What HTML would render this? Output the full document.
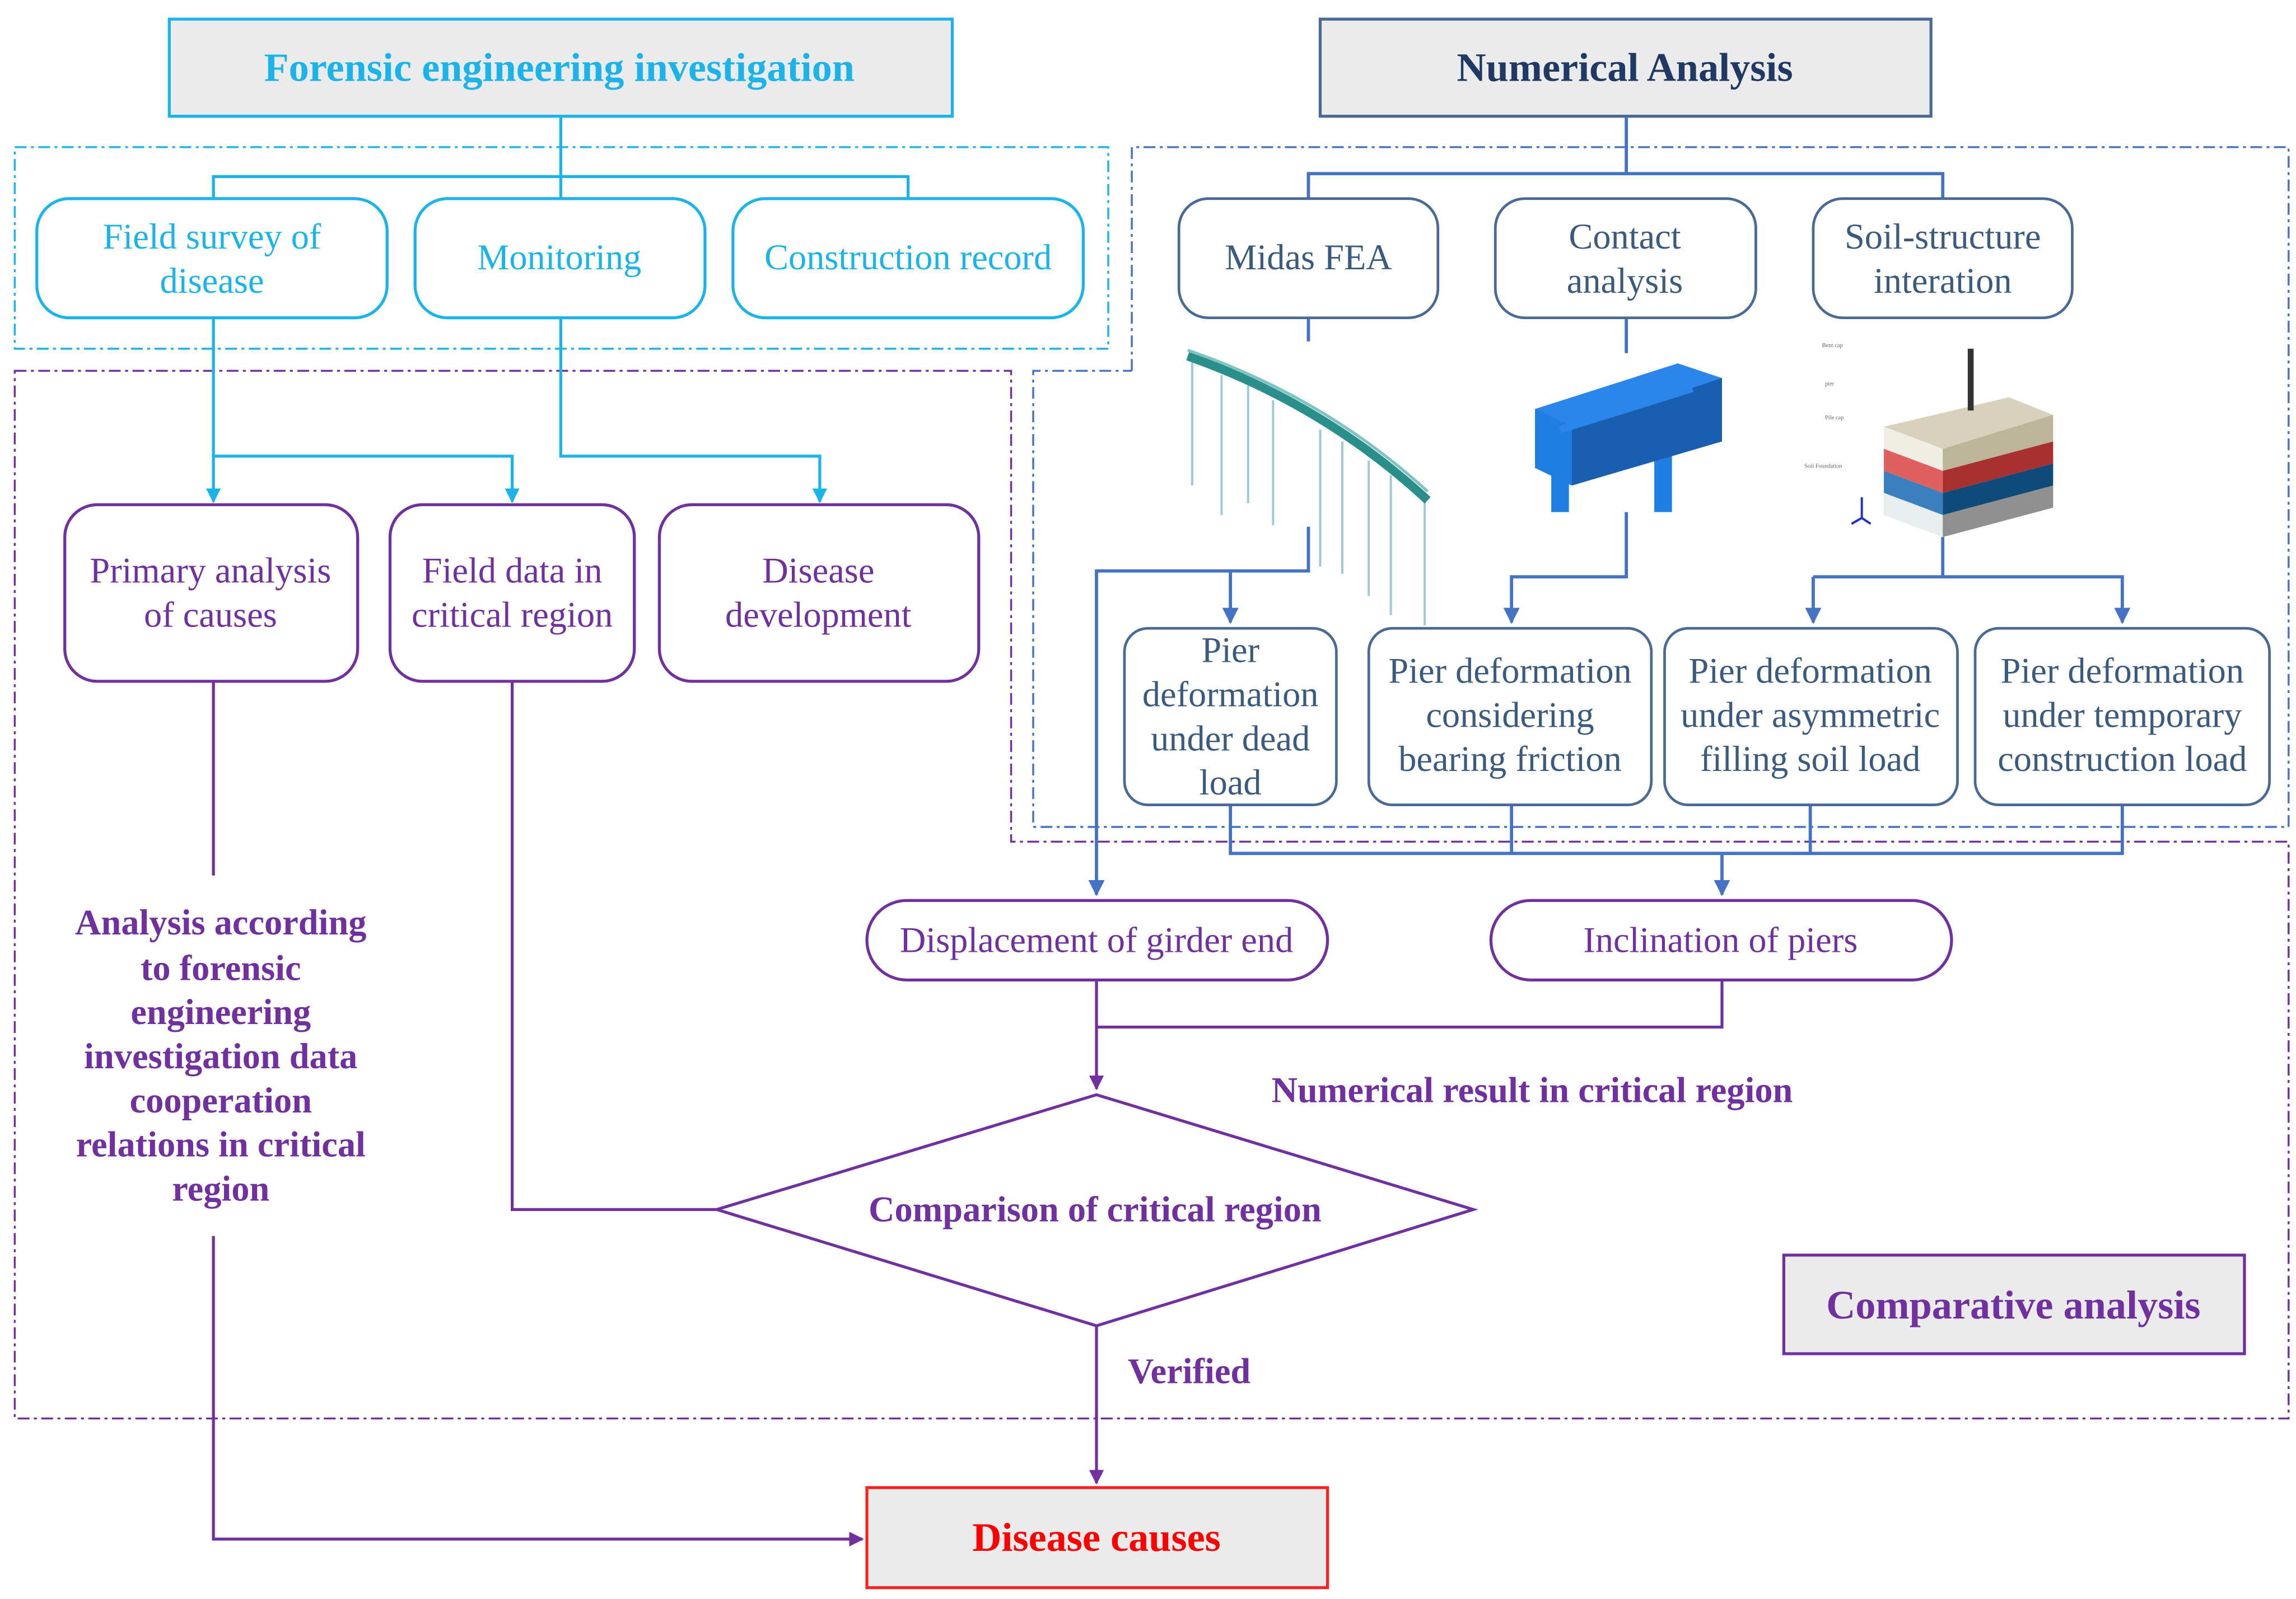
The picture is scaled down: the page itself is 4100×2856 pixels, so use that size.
<!DOCTYPE html>
<html><head><meta charset="utf-8"><style>html,body{margin:0;padding:0;background:#fff}svg{display:block}</style></head>
<body>
<svg xmlns="http://www.w3.org/2000/svg" width="4100" height="2856" viewBox="0 0 1560 1086.7" font-family="Liberation Serif, serif">
<defs>
<marker id="ac" viewBox="0 0 10 10" refX="9" refY="5" markerWidth="5" markerHeight="5" orient="auto"><path d="M0,0L10,5L0,10z" fill="#1ab4ea"/></marker>
<marker id="ab" viewBox="0 0 10 10" refX="9" refY="5" markerWidth="5" markerHeight="5" orient="auto"><path d="M0,0L10,5L0,10z" fill="#4472c4"/></marker>
<marker id="ap" viewBox="0 0 10 10" refX="9" refY="5" markerWidth="5" markerHeight="5" orient="auto"><path d="M0,0L10,5L0,10z" fill="#7030a0"/></marker>
</defs>
<rect width="1560" height="1087" fill="#fff"/>
<rect x="10" y="100" width="743" height="137" fill="none" stroke="#1ab4ea" stroke-width="1.3" stroke-dasharray="8,3,2,3"/>
<path d="M769,252V100H1555V562H702V252H769" fill="none" stroke="#4472c4" stroke-width="1.3" stroke-dasharray="8,3,2,3"/>
<path d="M10,252H687V572H1555V964H10Z" fill="none" stroke="#7030a0" stroke-width="1.3" stroke-dasharray="8,3,2,3"/>

<rect x="115" y="13" width="532" height="66" fill="#ebebeb" stroke="#1ab4ea" stroke-width="2"/>
<text x="380" y="55" text-anchor="middle" font-size="27.5" font-weight="bold" fill="#1ab4ea">Forensic engineering investigation</text>
<rect x="897" y="13" width="415" height="66" fill="#ebebeb" stroke="#4a6a96" stroke-width="2"/>
<text x="1104" y="55" text-anchor="middle" font-size="27.5" font-weight="bold" fill="#1f3864">Numerical Analysis</text>

<g stroke="#1ab4ea" stroke-width="2" fill="none">
<path d="M381,79V120M145,135V120H617V135M381,120V135"/>
<path d="M145,216V341" marker-end="url(#ac)"/>
<path d="M145,310H348V341" marker-end="url(#ac)"/>
<path d="M381,216V310H557V341" marker-end="url(#ac)"/>
</g>
<g fill="#fff" stroke="#1ab4ea" stroke-width="2">
<rect x="25" y="135" width="238" height="81" rx="22"/>
<rect x="282" y="135" width="197" height="81" rx="22"/>
<rect x="498" y="135" width="238" height="81" rx="22"/>
</g>
<g font-size="24.5" fill="#1ab4ea" text-anchor="middle">
<text x="144" y="169">Field survey of</text><text x="144" y="199">disease</text>
<text x="380" y="183">Monitoring</text>
<text x="617" y="183">Construction record</text>
</g>

<g stroke="#4472c4" stroke-width="2.2" fill="none">
<path d="M1105,79V118M889,135V118H1320V135"/>
<path d="M889,216V232M1105,216V240"/>
<path d="M889,358V388H745V608" marker-end="url(#ab)"/>
<path d="M836,388V423" marker-end="url(#ab)"/>
<path d="M1105,348V392H1027V423" marker-end="url(#ab)"/>
<path d="M1320,365V392"/>
<path d="M1232,392H1442V423" marker-end="url(#ab)"/>
<path d="M1232,392V423" marker-end="url(#ab)"/>
<path d="M836,547V580H1442V547M1027,547V580M1230,547V580"/>
<path d="M1170,580V608" marker-end="url(#ab)"/>
</g>
<g fill="#fff" stroke="#4a6a96" stroke-width="1.8">
<rect x="801" y="135" width="176" height="81" rx="20"/>
<rect x="1016" y="135" width="177" height="81" rx="20"/>
<rect x="1232" y="135" width="176" height="81" rx="20"/>
</g>
<g font-size="24.5" fill="#3b5a80" text-anchor="middle">
<text x="889" y="183">Midas FEA</text>
<text x="1104" y="169">Contact</text><text x="1104" y="199">analysis</text>
<text x="1320" y="169">Soil-structure</text><text x="1320" y="199">interation</text>
</g>

<g>
<g stroke="#9cc9d6" stroke-width="1.5">
<path d="M810,245V330M830,255V350M848,262V342M865,272V357M897,292V385M912,300V390M930,313V405M945,323V418M968,340V425"/>
</g>
<path d="M807,242Q900,275 970,340" stroke="#2a8f8a" stroke-width="6" fill="none"/>
<path d="M807,238Q900,270 970,334" stroke="#7fc4c2" stroke-width="2" fill="none"/>
</g>
<g>
<rect x="1054" y="300" width="12" height="48" fill="#1f7fe0"/>
<rect x="1124" y="290" width="12" height="58" fill="#1f7fe0"/>
<path d="M1043,278L1140,247L1170,257V300L1068,330L1043,318Z" fill="#1a5faf"/>
<path d="M1043,278L1140,247L1170,257L1068,290Z" fill="#2a86ea"/>
<path d="M1043,278L1068,290V330L1043,318Z" fill="#1f7fe0"/>
<path d="M1060,292L1150,264" stroke="#2a86ea" stroke-width="5"/>
</g>
<g>
<path d="M1280,290L1365,270L1395,282L1320,305Z" fill="#d8d2bc"/>
<path d="M1280,290L1320,305V320L1280,305Z" fill="#f0ede4"/>
<path d="M1320,305L1395,282V300L1320,320Z" fill="#bdb59a"/>
<path d="M1280,305L1320,320V335L1280,320Z" fill="#e06060"/>
<path d="M1320,320L1395,300V315L1320,335Z" fill="#a83030"/>
<path d="M1280,320L1320,335V350L1280,335Z" fill="#3a7fc0"/>
<path d="M1320,335L1395,315V330L1320,350Z" fill="#0f4a78"/>
<path d="M1280,335L1320,350V365L1280,350Z" fill="#e8eeee"/>
<path d="M1320,350L1395,330V345L1320,365Z" fill="#909090"/>
<rect x="1337" y="237" width="4" height="42" fill="#333"/>
<g font-size="4" fill="#666"><text x="1238" y="236">Bent cap</text><text x="1240" y="262">pier</text><text x="1240" y="285">Pile cap</text><text x="1226" y="318">Soil Foundation</text></g>
<path d="M1265,338V352M1265,352L1258,356M1265,352L1271,356" stroke="#2030c0" stroke-width="1.5"/>
</g>

<g fill="#fff" stroke="#4a6a96" stroke-width="1.8">
<rect x="764" y="427" width="144" height="120" rx="16"/>
<rect x="930" y="427" width="192" height="120" rx="16"/>
<rect x="1131" y="427" width="199" height="120" rx="16"/>
<rect x="1342" y="427" width="200" height="120" rx="16"/>
</g>
<g font-size="24.5" fill="#3b5a80" text-anchor="middle">
<text x="836" y="450">Pier</text><text x="836" y="480">deformation</text><text x="836" y="510">under dead</text><text x="836" y="540">load</text>
<text x="1026" y="464">Pier deformation</text><text x="1026" y="494">considering</text><text x="1026" y="524">bearing friction</text>
<text x="1230" y="464">Pier deformation</text><text x="1230" y="494">under asymmetric</text><text x="1230" y="524">filling soil load</text>
<text x="1442" y="464">Pier deformation</text><text x="1442" y="494">under temporary</text><text x="1442" y="524">construction load</text>
</g>

<g stroke="#7030a0" stroke-width="2" fill="none">
<path d="M745,666V740" marker-end="url(#ap)"/>
<path d="M1170,666V698H745"/>
<path d="M348,463V822H487"/>
<path d="M145,463V595"/>
<path d="M145,840V1046H586" marker-end="url(#ap)"/>
<path d="M745,901V1008" marker-end="url(#ap)"/>
</g>
<g fill="#fff" stroke="#7030a0" stroke-width="2">
<rect x="44" y="343" width="199" height="120" rx="22"/>
<rect x="265" y="343" width="166" height="120" rx="22"/>
<rect x="448" y="343" width="217" height="120" rx="22"/>
<rect x="589" y="612" width="313" height="54" rx="27"/>
<rect x="1013" y="612" width="313" height="54" rx="27"/>
<path d="M745,744L1001,822L745,901L487,822Z"/>
</g>
<g font-size="24.5" fill="#7030a0" text-anchor="middle">
<text x="143" y="396">Primary analysis</text><text x="143" y="426">of  causes</text>
<text x="348" y="396">Field data in</text><text x="348" y="426">critical region</text>
<text x="556" y="396">Disease</text><text x="556" y="426">development</text>
<text x="745" y="647">Displacement of girder end</text>
<text x="1169" y="647">Inclination of piers</text>
</g>
<g font-size="24.5" font-weight="bold" fill="#7030a0" text-anchor="middle">
<text x="744" y="830">Comparison of critical region</text>
<text x="1041" y="749">Numerical result in critical region</text>
<text x="808" y="940">Verified</text>
<text x="150" y="635">Analysis according</text>
<text x="150" y="666">to forensic</text>
<text x="150" y="696">engineering</text>
<text x="150" y="726">investigation data</text>
<text x="150" y="756">cooperation</text>
<text x="150" y="786">relations in critical</text>
<text x="150" y="816">region</text>
</g>
<rect x="1212" y="853" width="313" height="67" fill="#ebebeb" stroke="#7030a0" stroke-width="2"/>
<text x="1368" y="896" text-anchor="middle" font-size="27.5" font-weight="bold" fill="#7030a0">Comparative analysis</text>
<rect x="589" y="1011" width="313" height="68" fill="#ebebeb" stroke="#ff2020" stroke-width="2"/>
<text x="745" y="1054" text-anchor="middle" font-size="27.5" font-weight="bold" fill="#ff0000">Disease causes</text>
</svg>
</body></html>
